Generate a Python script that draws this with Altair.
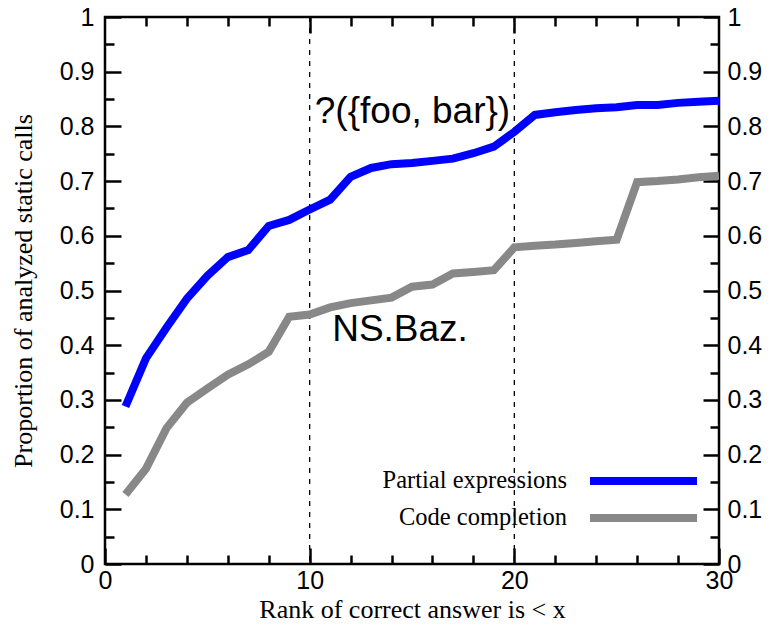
import altair as alt
import pandas as pd

ranks = list(range(1, 31))
partial_expr = [0.288, 0.376, 0.432, 0.485, 0.527, 0.561, 0.574, 0.618, 0.629, 0.648,
                0.666, 0.708, 0.724, 0.731, 0.733, 0.737, 0.741, 0.751, 0.763, 0.790,
                0.821, 0.826, 0.830, 0.833, 0.835, 0.839, 0.839, 0.843, 0.845, 0.847]
code_compl = [0.127, 0.174, 0.248, 0.295, 0.321, 0.346, 0.365, 0.388, 0.452, 0.456,
              0.469, 0.477, 0.482, 0.487, 0.507, 0.511, 0.531, 0.534, 0.537, 0.579,
              0.582, 0.584, 0.587, 0.590, 0.593, 0.698, 0.700, 0.703, 0.707, 0.710]
series_names = ["Partial expressions", "Code completion"]
series_colors = ["#0000ff", "#888888"]

x_major = [0, 10, 20, 30]
x_minor = [2, 4, 6, 8, 12, 14, 16, 18, 22, 24, 26, 28]
top_minor = [2, 4, 6, 8, 12, 14, 16, 18, 22, 24, 26, 28]
top_major = [10, 20]
y_major = [round(i * 0.1, 2) for i in range(11)]
y_minor = [round(0.05 + i * 0.1, 2) for i in range(10)]
dashed_x = [10, 20]

annot_text = ["?({foo, bar})", "NS.Baz."]
annot_x = [10.25, 11.1]
annot_y = [0.806, 0.408]

rows = []
for name, vals in zip(series_names, [partial_expr, code_compl]):
    for r, v in zip(ranks, vals):
        rows.append({"x": r, "v": v, "series": name})
df = pd.DataFrame(rows)

xs = alt.Scale(domain=[0, 30], nice=False, zero=False)
ys = alt.Scale(domain=[0, 1], nice=False, zero=False)

MAJ = 16
MIN = 9
LBL = dict(labelFont="Liberation Sans", labelFontSize=25, labelColor="black",
           tickColor="black", tickWidth=2.5, domain=False, grid=False,
           labelOverlap=False, labelFlush=False)
NOL = dict(labels=False, tickColor="black", tickWidth=2.5, domain=False, grid=False, title=None)

bottom_major = alt.Axis(orient="bottom", values=x_major, tickSize=MAJ, offset=-MAJ,
                        labelPadding=4, format="d",
                        title="Rank of correct answer is < x", titleFont="Liberation Serif",
                        titleFontSize=26, titleFontWeight="normal", titleColor="black",
                        titlePadding=3, **LBL)
bottom_minor = alt.Axis(orient="bottom", values=x_minor, tickSize=MIN, offset=-MIN, **NOL)
top_major_ax = alt.Axis(orient="top", values=top_major, tickSize=MAJ, offset=-MAJ, **NOL)
top_minor_ax = alt.Axis(orient="top", values=top_minor, tickSize=MIN, offset=-MIN, **NOL)
left_major = alt.Axis(orient="left", values=y_major, tickSize=MAJ, offset=-MAJ,
                      labelPadding=11, format=".1~f",
                      title="Proportion of analyzed static calls", titleFont="Liberation Serif",
                      titleFontSize=26, titleFontWeight="normal", titleColor="black",
                      titlePadding=23, **LBL)
left_minor = alt.Axis(orient="left", values=y_minor, tickSize=MIN, offset=-MIN, **NOL)
right_major = alt.Axis(orient="right", values=y_major, tickSize=MAJ, offset=-MAJ,
                       labelPadding=8, format=".1~f", title=None, **LBL)
right_minor = alt.Axis(orient="right", values=y_minor, tickSize=MIN, offset=-MIN, **NOL)

color = alt.Color("series:N", scale=alt.Scale(domain=series_names, range=series_colors), legend=None)

lines = alt.Chart(df).mark_line(strokeWidth=8, clip=True).encode(
    x=alt.X("x:Q", scale=xs, axis=bottom_major),
    y=alt.Y("v:Q", scale=ys, axis=left_major),
    color=color,
    order=alt.Order("x:Q"),
)

inv1 = alt.Chart(df).mark_point(opacity=0).encode(
    x=alt.X("x:Q", scale=xs, axis=bottom_minor),
    y=alt.Y("v:Q", scale=ys, axis=left_minor),
)
inv2 = alt.Chart(df).mark_point(opacity=0).encode(
    x=alt.X("x:Q", scale=xs, axis=top_major_ax),
    y=alt.Y("v:Q", scale=ys, axis=right_major),
)
inv3 = alt.Chart(df).mark_point(opacity=0).encode(
    x=alt.X("x:Q", scale=xs, axis=top_minor_ax),
    y=alt.Y("v:Q", scale=ys, axis=right_minor),
)

rules = alt.Chart(pd.DataFrame({"x": dashed_x})).mark_rule(
    color="black", strokeWidth=1.3, strokeDash=[5, 6]
).encode(x=alt.X("x:Q", scale=xs, axis=None))

annots = alt.Chart(pd.DataFrame({"t": annot_text, "x": annot_x, "y": annot_y})).mark_text(
    font="Liberation Sans", fontSize=37, align="left", baseline="alphabetic", color="black"
).encode(
    x=alt.X("x:Q", scale=xs, axis=None),
    y=alt.Y("y:Q", scale=ys, axis=None),
    text="t:N",
)

leg_layers = []
leg_y = [464, 501]
for name, col, yy in zip(series_names, series_colors, leg_y):
    leg_layers.append(
        alt.Chart(pd.DataFrame({"t": [name]})).mark_text(
            font="Liberation Serif", fontSize=24.5, align="right", baseline="middle", color="black"
        ).encode(x=alt.value(462), y=alt.value(yy), text="t:N")
    )
    leg_layers.append(
        alt.Chart(pd.DataFrame({"t": [name]})).mark_rule(color=col, strokeWidth=8).encode(
            x=alt.value(485), x2=alt.value(592), y=alt.value(yy)
        )
    )

chart = alt.layer(rules, lines, inv1, inv2, inv3, annots, *leg_layers).resolve_axis(
    x="independent", y="independent"
).properties(
    width=614, height=547,
    autosize=alt.AutoSizeParams(type="none"),
    padding={"left": 97, "top": 9, "right": 43, "bottom": 58},
    background="white",
).configure_view(stroke="black", strokeWidth=2.5)

chart.save("out.html", embed_options={"renderer": "svg", "actions": False})
